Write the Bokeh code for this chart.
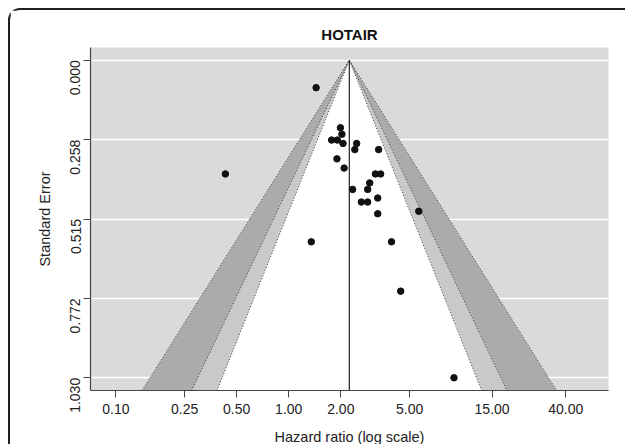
import math
from statistics import NormalDist

from bokeh.plotting import figure
from bokeh.models import Range1d, FixedTicker, PrintfTickFormatter, CustomJSTickFormatter
from bokeh.embed import file_html
from bokeh.resources import INLINE

# ---------------- data ----------------
title_text = "HOTAIR"
x_label = "Hazard ratio (log scale)"
y_label = "Standard Error"

hazard_ratio = [1.44, 0.43, 1.99, 2.03, 1.77, 1.91, 2.06, 2.47, 2.41, 3.31,
                1.90, 2.09, 3.17, 3.40, 2.94, 2.34, 2.86, 3.27, 2.63, 2.86,
                3.27, 5.65, 1.35, 3.93, 4.44, 9.03]
std_error = [0.089, 0.369, 0.219, 0.240, 0.259, 0.259, 0.270, 0.270, 0.290, 0.290,
             0.320, 0.350, 0.369, 0.369, 0.398, 0.419, 0.419, 0.447, 0.460, 0.460,
             0.498, 0.490, 0.589, 0.589, 0.749, 1.030]
pooled_hr = 2.24
contour_levels = [99, 95, 90]
band_colors = ["#aaabad", "#c8c9cb", "#ffffff"]

x_ticks = [0.10, 0.25, 0.50, 1.00, 2.00, 5.00, 15.00, 40.00]
se_max = max(std_error)
y_ticks = [se_max * i / 4 for i in range(5)]
y_tick_labels = ["0.000", "0.258", "0.515", "0.772", "1.030"]

# ---------------- figure ----------------
FONT = "Liberation Sans"
TXT = "#222222"

y_bottom = se_max * 1.04
y_top = -se_max * 0.04

p = figure(
    width=615, height=434,
    x_axis_type="log",
    x_range=Range1d(math.exp(-2.64), math.exp(4.258)),
    y_range=Range1d(y_bottom, y_top),
    output_backend="svg", toolbar_location=None,
    min_border_left=80, min_border_right=17, min_border_top=37, min_border_bottom=54,
    styles={"border-left": "2px solid #1e1e1e", "border-top": "2px solid #1e1e1e",
            "border-top-left-radius": "12px",
            "margin-left": "8px", "margin-top": "8px"},
)
p.frame_width = 518
p.frame_height = 343

p.background_fill_color = "#d9dadc"
p.border_fill_color = "white"
p.outline_line_color = None

p.title.text = title_text
p.title.align = "center"
p.title.text_font = FONT
p.title.text_font_size = "15px"
p.title.text_font_style = "bold"
p.title.text_color = "#111111"

# grid
p.xgrid.grid_line_color = None
p.ygrid.ticker = FixedTicker(ticks=y_ticks)
p.ygrid.grid_line_color = "white"
p.ygrid.grid_line_width = 1.6

# contour bands
for lev, col in zip(contour_levels, band_colors):
    z = NormalDist().inv_cdf(1 - (1 - lev / 100) / 2)
    xl = pooled_hr * math.exp(-z * y_bottom)
    xr = pooled_hr * math.exp(z * y_bottom)
    p.patch([xl, pooled_hr, xr], [y_bottom, 0, y_bottom], fill_color=col, line_color=None)

for lev in contour_levels:
    z = NormalDist().inv_cdf(1 - (1 - lev / 100) / 2)
    xl = pooled_hr * math.exp(-z * y_bottom)
    xr = pooled_hr * math.exp(z * y_bottom)
    p.line([xl, pooled_hr, xr], [y_bottom, 0, y_bottom], line_color="#3a3a3a",
           line_width=1, line_dash="1 2")

# reference line
p.segment(x0=[pooled_hr], y0=[0], x1=[pooled_hr], y1=[y_bottom], line_color="#222222", line_width=1.2)

# studies
p.scatter(hazard_ratio, std_error, size=6.5, fill_color="#111111", line_color="#111111")

# axes
xa = p.xaxis[0]
xa.ticker = FixedTicker(ticks=x_ticks, minor_ticks=[])
xa.formatter = PrintfTickFormatter(format="%.2f")
ya = p.yaxis[0]
ya.ticker = FixedTicker(ticks=y_ticks, minor_ticks=[])
ya.formatter = CustomJSTickFormatter(args=dict(labels=y_tick_labels), code="return labels[index];")
ya.major_label_orientation = math.pi / 2

for ax in (xa, ya):
    ax.axis_line_color = "#444444"
    ax.axis_line_width = 1.2
    ax.major_tick_line_color = "#444444"
    ax.major_tick_out = 7
    ax.major_tick_in = 0
    ax.minor_tick_line_color = None
    ax.major_label_text_font = FONT
    ax.major_label_text_font_size = "14px"
    ax.major_label_text_color = TXT
    ax.axis_label_text_font = FONT
    ax.axis_label_text_font_size = "14.5px"
    ax.axis_label_text_font_style = "normal"
    ax.axis_label_text_color = TXT

xa.major_label_standoff = 6
ya.major_label_standoff = 8
xa.axis_label = x_label
ya.axis_label = y_label
xa.axis_label_standoff = 12
ya.axis_label_standoff = 10

open("out.html", "w").write(file_html(p, INLINE))
